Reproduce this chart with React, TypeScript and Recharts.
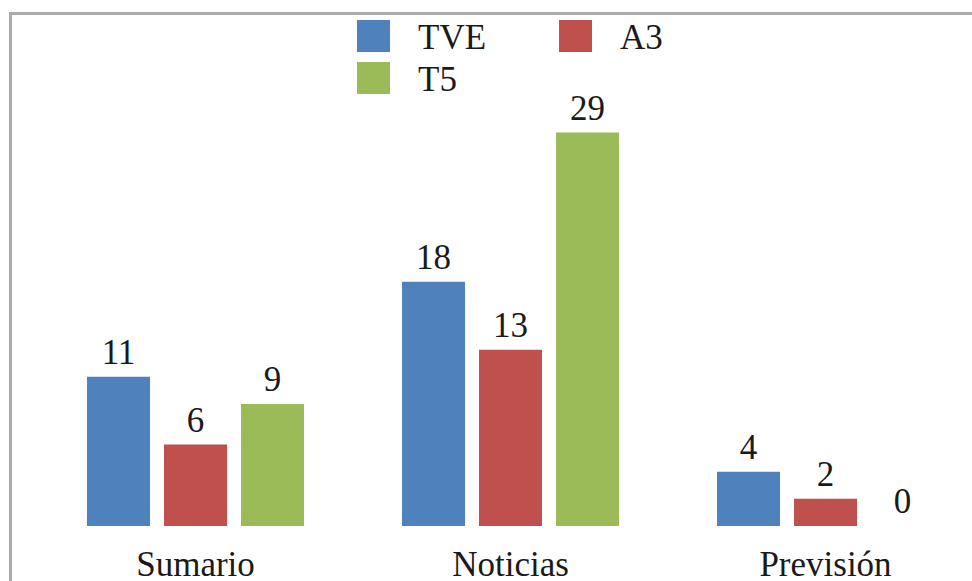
import React from 'react';
import { BarChart, Bar, XAxis, YAxis, LabelList } from 'recharts';

const categories = ['Sumario', 'Noticias', 'Previsión'];
const tve = [11, 18, 4];
const a3 = [6, 13, 2];
const t5 = [9, 29, 0];

const seriesNames = ['TVE', 'A3', 'T5'];
const seriesColors = ['#4F81BD', '#C0504D', '#9BBB59'];

const data = categories.map((c, i) => ({ name: c, TVE: tve[i], A3: a3[i], T5: t5[i] }));

const FONT = 'Liberation Serif, DejaVu Serif, serif';

const legendPos = [
  { sx: 357, sy: 20, tx: 418, ty: 20 },
  { sx: 559, sy: 20, tx: 620, ty: 20 },
  { sx: 357, sy: 62, tx: 418, ty: 62 },
];

export default function App() {
  return (
    <div
      style={{
        position: 'fixed',
        left: 0,
        top: 0,
        width: 972,
        height: 581,
        overflow: 'hidden',
        background: '#ffffff',
        fontFamily: FONT,
      }}
    >
      <div
        style={{
          position: 'absolute',
          left: 9,
          top: 12,
          width: 1100,
          height: 700,
          border: '3px solid #ababab',
          boxSizing: 'border-box',
        }}
      />
      <div style={{ position: 'absolute', left: 0, top: 0 }}>
        <BarChart
          width={1000}
          height={600}
          data={data}
          margin={{ top: 119, right: 17, bottom: 14, left: 38 }}
          barCategoryGap={49}
          barGap={14}
          style={{ fontFamily: FONT }}
        >
          <XAxis
            dataKey="name"
            axisLine={false}
            tickLine={false}
            height={60}
            tickMargin={19}
            interval={0}
            tick={{ fontSize: 35, fill: '#1a1a1a', fontFamily: FONT }}
          />
          <YAxis hide domain={[0, 30]} />
          {seriesNames.map((s, i) => (
            <Bar key={s} dataKey={s} fill={seriesColors[i]} minPointSize={0.01} isAnimationActive={false}>
              <LabelList
                dataKey={s}
                position="top"
                offset={13}
                fontFamily={FONT}
                fontSize={35}
                fill="#1a1a1a"
              />
            </Bar>
          ))}
        </BarChart>
      </div>
      {seriesNames.map((s, i) => (
        <React.Fragment key={s}>
          <div
            style={{
              position: 'absolute',
              left: legendPos[i].sx,
              top: legendPos[i].sy,
              width: 33,
              height: 32,
              background: seriesColors[i],
            }}
          />
          <div
            style={{
              position: 'absolute',
              left: legendPos[i].tx,
              top: legendPos[i].ty,
              fontFamily: FONT,
              fontSize: 35,
              lineHeight: '35px',
              color: '#1a1a1a',
              whiteSpace: 'nowrap',
            }}
          >
            {s}
          </div>
        </React.Fragment>
      ))}
    </div>
  );
}
